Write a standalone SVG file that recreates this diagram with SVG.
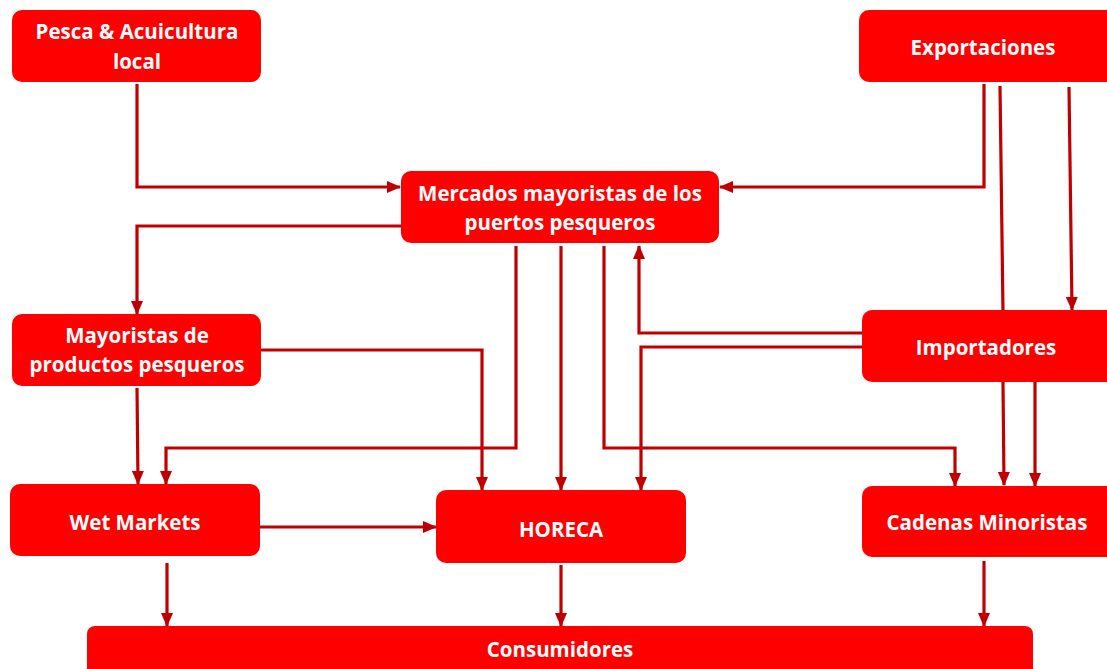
<svg xmlns="http://www.w3.org/2000/svg" width="1107" height="669" viewBox="0 0 1107 669">
<style>
.box{fill:#FF0000;}
.t{fill:#FFFFFF;font-family:"Open Sans",Lato,"DejaVu Sans",sans-serif;font-weight:bold;font-size:20.5px;text-anchor:middle;}
.c{fill:none;stroke:#C00000;stroke-width:3.2;marker-end:url(#ah);}
.n{fill:none;stroke:#C00000;stroke-width:3.2;}
</style>
<defs>
<marker id="ah" markerUnits="userSpaceOnUse" markerWidth="14" markerHeight="14" viewBox="0 0 14 14" refX="13" refY="7" orient="auto">
<path d="M0,1 L14,7 L0,13 Z" fill="#C00000"/>
</marker>
</defs>
<rect width="1107" height="669" fill="#FFFFFF"/>
<g id="connectors">
<path class="c" d="M137,84 V187 H400"/>
<path class="c" d="M984,84 V187 H720"/>
<path class="n" d="M1000,86 L1003,312"/>
<path class="c" d="M1003,382 L1004,485"/>
<path class="c" d="M1069,87 L1072,310"/>
<path class="c" d="M401,226 H137 V314"/>
<path class="c" d="M516,246 V448 H166 V484"/>
<path class="c" d="M561,246 V490"/>
<path class="c" d="M604,246 V448 H955 V486"/>
<path class="c" d="M862,333 H639 V246"/>
<path class="c" d="M862,347 H641 V490"/>
<path class="c" d="M261,350 H482 V490"/>
<path class="c" d="M137,388 L138,484"/>
<path class="c" d="M1035,382 V486"/>
<path class="c" d="M260,527 H436"/>
<path class="c" d="M167,563 V626"/>
<path class="c" d="M561,565 V626"/>
<path class="c" d="M984,561 V626"/>
</g>
<g id="pesca"><rect class="box" x="12" y="10" width="249" height="72" rx="10"/><text class="t" x="137" y="39">Pesca &amp; Acuicultura</text><text class="t" x="137" y="69">local</text></g>
<g id="exportaciones"><rect class="box" x="859" y="10" width="258" height="72" rx="10"/><text class="t" x="983" y="55">Exportaciones</text></g>
<g id="mercados"><rect class="box" x="401" y="171" width="318" height="72" rx="10"/><text class="t" x="560" y="201">Mercados mayoristas de los</text><text class="t" x="560" y="230">puertos pesqueros</text></g>
<g id="mayoristas"><rect class="box" x="12" y="314" width="249" height="72" rx="10"/><text class="t" x="137" y="343">Mayoristas de</text><text class="t" x="137" y="372">productos pesqueros</text></g>
<g id="importadores"><rect class="box" x="862" y="310" width="255" height="72" rx="10"/><text class="t" x="986" y="355">Importadores</text></g>
<g id="wetmarkets"><rect class="box" x="10" y="484" width="250" height="72" rx="10"/><text class="t" x="135" y="530">Wet Markets</text></g>
<g id="horeca"><rect class="box" x="436" y="490" width="250" height="73" rx="10"/><text class="t" x="561" y="537">HORECA</text></g>
<g id="cadenas"><rect class="box" x="862" y="486" width="255" height="71" rx="10"/><text class="t" x="987" y="530">Cadenas Minoristas</text></g>
<g id="consumidores"><rect class="box" x="87" y="626" width="946" height="60" rx="8"/><text class="t" x="560" y="657">Consumidores</text></g>
</svg>
